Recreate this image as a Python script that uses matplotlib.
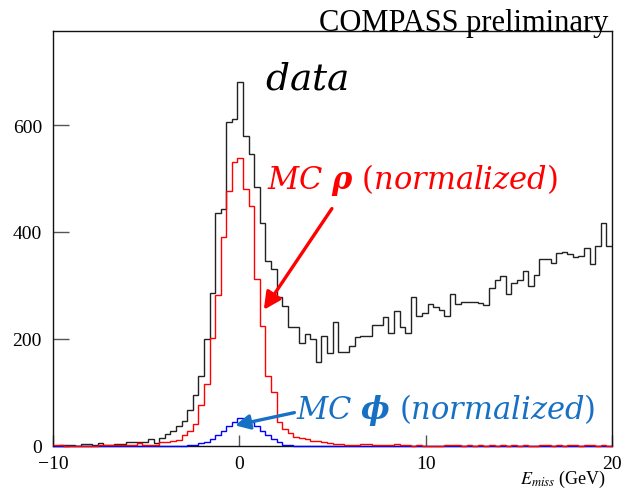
import numpy as np
import matplotlib
matplotlib.use('Agg')
import matplotlib.pyplot as plt

# 100 bins of E_miss between -10 and 20 GeV
bin_lo, bin_hi, n_bins = -10, 20, 100

data_counts = [
    0, 0.5, 1, 0.5, 0, 2.5, 2.5, 1, 5, 1,
    1, 2.5, 2.5, 7.5, 7.5, 7.5, 7.5, 12, 5, 14,
    22, 28, 36, 46, 66, 95, 130, 199, 285, 435,
    442, 605, 611, 681, 579, 545, 485, 417, 345, 330,
    279, 261, 223, 222, 192, 209, 200, 157, 205, 173,
    232, 175, 176, 187, 203, 206, 206, 225, 226, 240,
    210, 252, 223, 210, 279, 243, 248, 265, 260, 254,
    243, 284, 266, 269, 269, 269, 267, 264, 295, 310,
    318, 284, 304, 310, 326, 298, 319, 349, 350, 341,
    360, 363, 359, 354, 355, 370, 340, 374, 416, 374,
]

mc_rho = [
    0.5, 0.5, 0, 0, 0, 0, 0, 0, 1, 1,
    1, 0.5, 0.5, 0.5, 0.5, 5, 1, 1, 2, 6,
    7.5, 8, 11, 20, 28, 40, 76, 115, 201, 282,
    391, 477, 530, 538, 480, 449, 312, 224, 131, 100,
    44, 31, 24, 17, 14, 12, 9, 9, 6, 5,
    4, 3, 2, 2, 1, 3, 3, 2, 2, 1,
    2, 3, 1, 1, 0, 1, 0, 0, 0, 0,
    1, 2, 1, 0, 1, 0, 1, 0, 1, 0,
    1, 0, 1, 0, 1, 0, 0, 1, 1, 0,
    1, 0, 1, 1, 0, 1, 1, 0, 1, 0,
]

mc_phi = [
    0, 0, 0, 0, 0, 0, 0, 0, 0, 0,
    0, 0, 0, 0, 0, 0, 0, 0, 0, 0,
    0, 0, 0, 0, 0.5, 2, 4.5, 7.5, 12.5, 20,
    28, 36, 45, 51, 50, 45, 37, 28, 20, 12.5,
    7.5, 2, 1, 0, 0, 0, 0, 0, 0, 0,
    0, 0, 0, 0, 0, 0, 0, 0, 0, 0,
    0, 0, 0, 0, 0, 0, 0, 0, 0, 0,
    0, 0, 0, 0, 0, 0, 0, 0, 0, 0,
    0, 0, 0, 0, 0, 0, 0, 0, 0, 0,
    0, 0, 0, 0, 0, 0, 0, 0, 0, 0,
]

x_ticks = [-10, 0, 10, 20]
y_ticks = [0, 200, 400, 600]

W, H = 623, 489
RED = '#ff0000'
BLUE = '#1670c4'

plt.rcParams['mathtext.fontset'] = 'custom'
plt.rcParams['mathtext.it'] = 'DejaVu Serif:italic'
plt.rcParams['mathtext.rm'] = 'DejaVu Serif'
plt.rcParams['mathtext.bf'] = 'DejaVu Serif:italic:bold'


def fx(px):
    return px / W


def fy(py):
    return 1 - py / H


fig = plt.figure(figsize=(W / 100, H / 100), dpi=100)
ax = fig.add_axes([fx(53), fy(446.7), fx(612) - fx(53), fy(32) - fy(446.7)])

edges = np.linspace(bin_lo, bin_hi, n_bins + 1)
ax.stairs(data_counts, edges, color='#222222', lw=1.0, zorder=3, baseline=None)
ax.stairs(mc_phi, edges, color='#0000ff', lw=1.0, zorder=3, baseline=None, clip_on=False)
ax.stairs(mc_rho, edges, color=RED, lw=1.0, zorder=3, baseline=None, clip_on=False)

ax.set_xlim(bin_lo, bin_hi)
ax.set_ylim(0, 776)
ax.set_xticks(x_ticks)
ax.set_yticks(y_ticks)
ax.set_xticklabels(['\u2212' + str(-t) if t < 0 else str(t) for t in x_ticks])
ax.tick_params(axis='y', direction='in', length=11.5, width=1, color='#555555',
               labelsize=14, pad=8)
ax.tick_params(axis='x', direction='in', length=8, width=1, color='#555555',
               labelsize=14, pad=7)
for lab in ax.get_xticklabels() + ax.get_yticklabels():
    lab.set_fontfamily('Liberation Serif')
for sp in ax.spines.values():
    sp.set_linewidth(1.0)
    sp.set_color('#111111')

fig.text(fx(606), fy(479), r'$E_{miss}$ (GeV)', ha='right', va='center',
         fontsize=13, family='Liberation Serif', math_fontfamily='stix')

fig.text(fx(608), fy(24), 'COMPASS preliminary', ha='right', va='center',
         fontsize=22, family='Liberation Serif')

fig.text(fx(265), fy(79), r'$data$', ha='left', va='center', fontsize=27)
fig.text(fx(267), fy(180), r'$MC\ \mathbf{\rho}\ (normalized)$', ha='left',
         va='center', fontsize=22, color=RED)
fig.text(fx(296), fy(410), r'$MC\ \mathbf{\phi}\ (normalized)$', ha='left',
         va='center', fontsize=22, color=BLUE)

# pointers from the labels to the MC curves
ax.annotate('', xy=(1.23, 250), xytext=(5.05, 448),
            arrowprops=dict(arrowstyle='-|>', color=RED, lw=2.4, mutation_scale=26))
ax.annotate('', xy=(-0.38, 37), xytext=(3.1, 63),
            arrowprops=dict(arrowstyle='-|>', color=BLUE, lw=2.4, mutation_scale=22))

fig.savefig('out.png', dpi=100)
